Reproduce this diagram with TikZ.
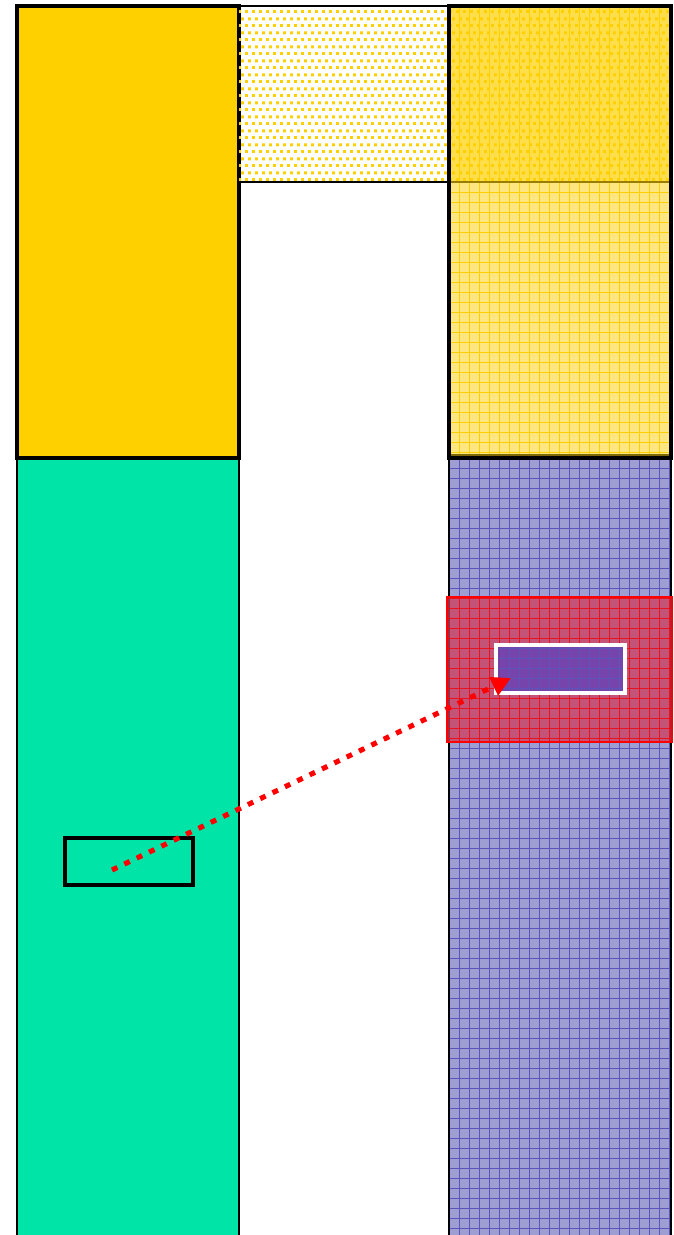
\documentclass[tikz,border=0pt]{standalone}
\usetikzlibrary{patterns.meta,arrows.meta}
\definecolor{sandyellow}{HTML}{FFD000}
\definecolor{paleyellow}{HTML}{FFE680}
\definecolor{seagreen}{HTML}{00E4A8}
\definecolor{meshblue}{HTML}{9E9ED2}
\definecolor{meshline}{HTML}{5C54B8}
\definecolor{zonered}{HTML}{D03C5A}
\definecolor{corepurple}{HTML}{6A42B4}
\tikzdeclarepattern{
  name=yellowspeck,
  type=uncolored,
  bottom left={(0pt,0pt)},
  top right={(4pt,8pt)},
  tile size={(4pt,8pt)},
  code={
    \fill (0pt,0pt) rectangle (1.8pt,1.8pt);
    \fill (2pt,4pt) rectangle (3.8pt,5.8pt);
  }
}
\tikzset{
  thickwall/.style={line width=2.3pt},
  thinwall/.style={line width=1.1pt},
  yellowmesh/.style={sandyellow, line width=0.45pt},
  bluemesh/.style={meshline, line width=0.4pt},
  redmesh/.style={red, line width=0.4pt, opacity=0.7},
  flowarrow/.style={red, line width=2.9pt, dash pattern=on 3.4pt off 4.4pt,
    -{Triangle[length=11pt,width=11pt]}}
}
\begin{document}
\begin{tikzpicture}[x=0.2mm,y=0.2mm]
\useasboundingbox (0,0) rectangle (674,-1235);

% left column
\fill[sandyellow] (17,-6) rectangle (239,-458);
\fill[seagreen] (17,-458) rectangle (239,-1236);
\draw[thinwall] (17,-1236) -- (17,-458) -- (239,-458) -- (239,-1236);
\draw[thickwall] (17,-6) rectangle (239,-458);

% middle strip
\fill[pattern=yellowspeck, pattern color=sandyellow] (239,-6) rectangle (449,-182);
\draw[thinwall] (239,-6) -- (449,-6) (239,-182) -- (449,-182);

% right column, upper part
\fill[paleyellow] (449,-6) rectangle (671,-458);
\fill[sandyellow!70!white] (449,-6) rectangle (671,-182);
\fill[pattern=yellowspeck, pattern color=sandyellow] (449,-6) rectangle (671,-182);
\foreach \x in {459,469,...,669}
  \draw[yellowmesh] (\x,-6) -- (\x,-456);
\foreach \y in {192,202,...,452}
  \draw[yellowmesh] (449,-\y) -- (671,-\y);
\draw[sandyellow!60!black, line width=0.6pt] (449,-182) -- (671,-182);
\draw[sandyellow!50!black, line width=1.2pt] (451,-455) -- (669,-455);

% right column, lower part
\fill[meshblue] (449,-458) rectangle (671,-1236);
\foreach \x in {459,469,...,669}
  \draw[bluemesh] (\x,-458) -- (\x,-1236);
\foreach \y in {468,478,...,1234}
  \draw[bluemesh] (449,-\y) -- (671,-\y);
\draw[thinwall] (449,-1236) -- (449,-458) -- (671,-458) -- (671,-1236);
\draw[thickwall] (449,-6) rectangle (671,-458);

% refined zone
\fill[zonered, opacity=0.75] (447,-597) rectangle (672,-742);
\foreach \x in {459,469,...,669}
  \draw[redmesh] (\x,-597) -- (\x,-742);
\foreach \y in {598,608,...,738}
  \draw[redmesh] (447,-\y) -- (672,-\y);
\draw[red, line width=1pt] (447,-597) rectangle (672,-742);
\fill[corepurple, opacity=0.85] (496,-645) rectangle (625,-693);
\foreach \x in {509,519,...,619}
  \draw[bluemesh] (\x,-645) -- (\x,-693);
\foreach \y in {648,658,...,688}
  \draw[bluemesh] (496,-\y) -- (625,-\y);
\draw[white, line width=1.8pt] (496,-645) rectangle (625,-693);

% probe on the left
\draw[line width=1.8pt] (65,-838) rectangle (193,-885);

\coordinate (probe) at (112,-870);
\coordinate (target) at (511,-678);
\draw[flowarrow] (probe) -- (target);
\end{tikzpicture}
\end{document}
